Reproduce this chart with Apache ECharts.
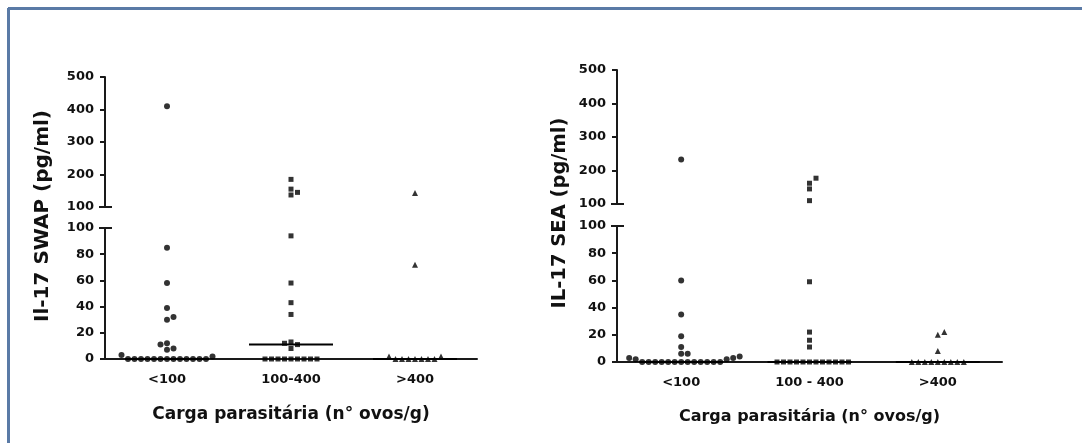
<!DOCTYPE html>
<html>
<head>
<meta charset="utf-8">
<script src="https://cdn.jsdelivr.net/npm/echarts@6/dist/echarts.min.js"></script>
<style>
html,body{margin:0;padding:0;background:#fff;}
#chart{width:1082px;height:443px;}
</style>
</head>
<body>
<div id="chart"></div>
<script>
// ---------- data ----------
const categoriesSWAP = ['<100', '100-400', '>400'];
const categoriesSEA = ['<100', '100 - 400', '>400'];
const swapLt100 = [410, 85, 58, 39, 32, 30, 12, 11, 8, 7, 3, 2, 0, 0, 0, 0, 0, 0, 0, 0, 0, 0, 0, 0, 0];
const swap100to400 = [185, 155, 145, 137, 94, 58, 43, 34, 13, 12, 11, 8, 0, 0, 0, 0, 0, 0, 0, 0, 0];
const swapGt400 = [143, 72, 2, 2, 0, 0, 0, 0, 0, 0, 0];
const seaLt100 = [233, 60, 35, 19, 11, 6, 6, 4, 3, 3, 2, 2, 0, 0, 0, 0, 0, 0, 0, 0, 0, 0, 0, 0, 0];
const sea100to400 = [177, 162, 145, 110, 59, 22, 16, 11, 0, 0, 0, 0, 0, 0, 0, 0, 0, 0, 0, 0];
const seaGt400 = [22, 20, 8, 0, 0, 0, 0, 0, 0, 0, 0, 0];
const lowerTicks = {min: 0, max: 100, interval: 20};
const upperTicks = {min: 100, max: 500, interval: 100};
const groupSymbols = ['circle', 'rect', 'triangle'];
const groupSymbolSizes = [6, 5, 6];

// ---------- layout ----------
const FONT = 'DejaVu Sans';
const AX = '#1a1a1a';
const panels = [
  {cats: categoriesSWAP, groups: [swapLt100, swap100to400, swapGt400], left: 105, width: 372,
   upTop: 77, upH: 130, lowTop: 228, lowH: 131, ytitle: 'Il-17 SWAP (pg/ml)', ytx: 43, yty: 216, ytitleSize: 20, xtitleSize: 17},
  {cats: categoriesSEA, groups: [seaLt100, sea100to400, seaGt400], left: 617, width: 385,
   upTop: 70, upH: 134, lowTop: 226, lowH: 136, ytitle: 'IL-17 SEA (pg/ml)', ytx: 560, yty: 213, ytitleSize: 19.5, xtitleSize: 16}
];
const SPACING = 6.5, DIAM = 5.6, MEDIAN_HALF = 42;

function median(arr) {
  const s = arr.slice().sort((a, b) => a - b);
  const n = s.length;
  return n % 2 ? s[(n - 1) / 2] : (s[n / 2 - 1] + s[n / 2]) / 2;
}

// simple beeswarm: returns horizontal pixel offsets
function swarm(values, pxPerUnit) {
  const idx = values.map((v, i) => i).sort((a, b) => values[a] - values[b]);
  const placed = [];
  const offs = new Array(values.length).fill(0);
  idx.forEach(i => {
    const y = values[i] * pxPerUnit;
    for (let k = 0; k < 60; k++) {
      const step = Math.ceil(k / 2) * (k % 2 ? 1 : -1);
      const x = step * SPACING;
      const hit = placed.some(p => (p.x - x) ** 2 + (p.y - y) ** 2 < DIAM * DIAM);
      if (!hit) { placed.push({x, y}); offs[i] = x; break; }
    }
  });
  return offs;
}

const grids = [], xAxes = [], yAxes = [], series = [];
const txt = {fontFamily: FONT, fontWeight: 'bold', color: '#111'};

panels.forEach((P, pi) => {
  const gUp = grids.length, gLow = gUp + 1;
  grids.push({left: P.left, top: P.upTop, width: P.width, height: P.upH});
  grids.push({left: P.left, top: P.lowTop, width: P.width, height: P.lowH});
  const xUp = xAxes.length, xCat = xUp + 1, xLow = xUp + 2;
  xAxes.push({type: 'value', gridIndex: gUp, min: -0.5, max: 2.5, show: false});
  xAxes.push({type: 'category', gridIndex: gLow, data: P.cats, boundaryGap: true,
    axisLine: {show: true, onZero: false, lineStyle: {color: AX, width: 2}}, axisTick: {show: false},
    axisLabel: Object.assign({fontSize: 13, margin: 14}, txt),
    name: 'Carga parasitária (n° ovos/g)', nameLocation: 'middle', nameGap: 47,
    nameTextStyle: Object.assign({fontSize: P.xtitleSize}, txt)});
  xAxes.push({type: 'value', gridIndex: gLow, min: -0.5, max: 2.5, show: false});
  const yUp = yAxes.length, yLow = yUp + 1;
  const yCfg = (g, t) => ({type: 'value', gridIndex: g, min: t.min, max: t.max, interval: t.interval,
    position: 'left',
    axisLine: {show: true, onZero: false, lineStyle: {color: AX, width: 2}},
    axisTick: {show: true, length: 5, lineStyle: {color: AX, width: 2}},
    axisLabel: Object.assign({fontSize: 13, margin: 11, showMinLabel: true, showMaxLabel: true}, txt),
    splitLine: {show: false}});
  yAxes.push(yCfg(gUp, upperTicks));
  yAxes.push(yCfg(gLow, lowerTicks));

  const bandPx = P.width / 3;
  const upData = [], lowData = [];
  P.groups.forEach((vals, gi) => {
    const lowVals = vals.filter(v => v <= 100);
    const upVals = vals.filter(v => v > 100);
    const lowOff = swarm(lowVals, P.lowH / 100);
    const upOff = swarm(upVals.map(v => v - 100), P.upH / 400);
    const item = (x, v) => ({value: [x, v], symbol: groupSymbols[gi], symbolSize: groupSymbolSizes[gi]});
    lowVals.forEach((v, i) => lowData.push(item(gi + lowOff[i] / bandPx, v)));
    upVals.forEach((v, i) => upData.push(item(gi + upOff[i] / bandPx, v)));
    const m = median(vals);
    const h = MEDIAN_HALF / bandPx;
    series.push({type: 'line', xAxisIndex: m > 100 ? xUp : xLow, yAxisIndex: m > 100 ? yUp : yLow,
      data: [[gi - h, m], [gi + h, m]], symbol: 'none', silent: true, z: 3,
      lineStyle: {color: '#000', width: 2}});
  });
  const sc = {type: 'scatter', itemStyle: {color: '#000'}, z: 4, silent: true};
  series.push(Object.assign({}, sc, {xAxisIndex: xUp, yAxisIndex: yUp, data: upData}));
  series.push(Object.assign({}, sc, {xAxisIndex: xLow, yAxisIndex: yLow, data: lowData}));
});

const chart = echarts.init(document.getElementById('chart'), null, {renderer: 'canvas'});
chart.setOption({
  animation: false,
  backgroundColor: '#fff',
  grid: grids, xAxis: xAxes, yAxis: yAxes, series: series
});

// decorations: frame, y titles, axis-break marks
const graphics = [
  {type: 'line', shape: {x1: 8, y1: 8.5, x2: 1082, y2: 8.5}, style: {stroke: '#5a7aa6', lineWidth: 3}},
  {type: 'line', shape: {x1: 8.5, y1: 8, x2: 8.5, y2: 443}, style: {stroke: '#5a7aa6', lineWidth: 3}}
];
panels.forEach((P, pi) => {
  graphics.push({type: 'text', x: P.ytx, y: P.yty, rotation: Math.PI / 2,
    style: {text: P.ytitle, font: 'bold ' + P.ytitleSize + 'px "' + FONT + '"', fill: '#111', align: 'center', verticalAlign: 'middle'}});
  const yU = chart.convertToPixel({yAxisIndex: pi * 2}, upperTicks.min);
  const yL = chart.convertToPixel({yAxisIndex: pi * 2 + 1}, lowerTicks.max);
  [yU, yL].forEach(y => graphics.push({type: 'line',
    shape: {x1: P.left - 6, y1: y, x2: P.left + 7, y2: y}, style: {stroke: AX, lineWidth: 2}}));
});
chart.setOption({graphic: graphics});
</script>
</body>
</html>
